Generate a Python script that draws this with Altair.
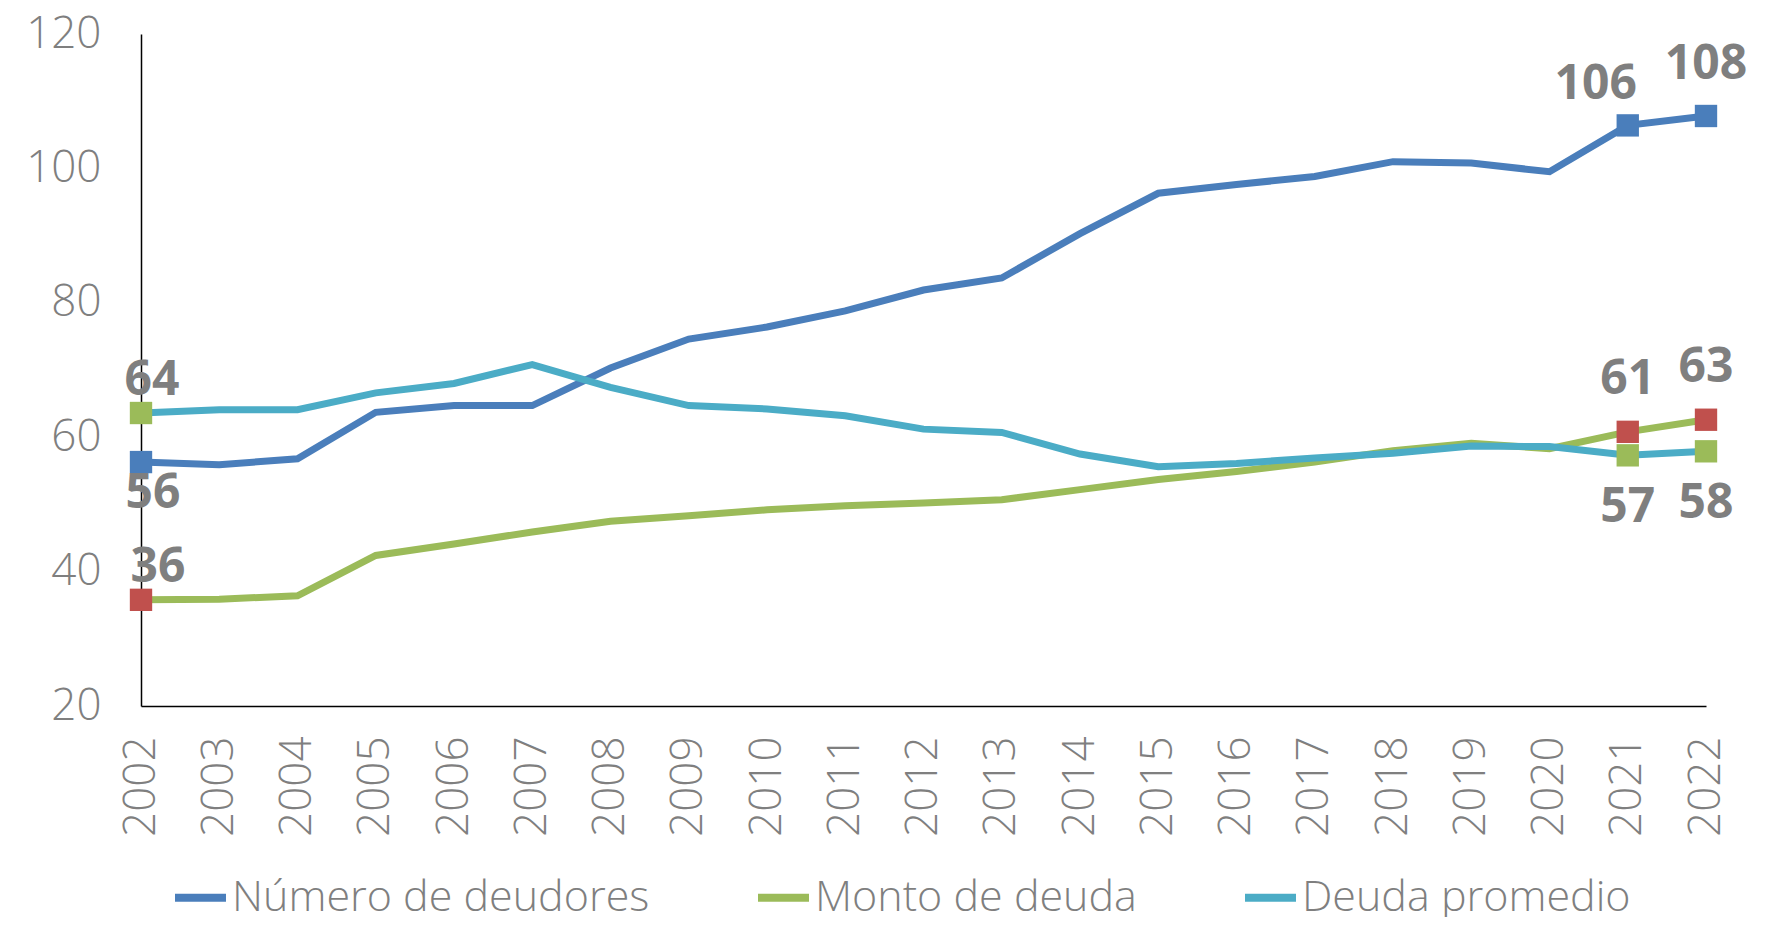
import altair as alt
import pandas as pd

# ---------------- data ----------------
years = list(range(2002, 2023))
series_names = ["Número de deudores", "Monto de deuda", "Deuda promedio"]
numero_deudores = [56.3, 55.9, 56.8, 63.7, 64.7, 64.7, 70.3, 74.6, 76.4, 78.8, 81.9,
                   83.7, 90.3, 96.3, 97.6, 98.8, 101.0, 100.8, 99.5, 106.4, 107.8]
monto_deuda = [35.8, 35.9, 36.4, 42.4, 44.1, 45.9, 47.5, 48.3, 49.2, 49.8, 50.2,
               50.7, 52.2, 53.7, 54.9, 56.3, 58.0, 59.1, 58.3, 60.8, 62.6]
deuda_promedio = [63.6, 64.1, 64.1, 66.6, 68.0, 70.8, 67.4, 64.7, 64.2, 63.2, 61.2,
                  60.7, 57.5, 55.6, 56.1, 56.9, 57.6, 58.7, 58.6, 57.3, 57.9]
y_ticks = [20, 40, 60, 80, 100, 120]
marked_years = [2002, 2021, 2022]

# ---------------- styles ----------------
line_colors = ["#4A7EBB", "#9BBB59", "#4BACC6"]
marker_colors = {"Número de deudores": "#4A7EBB",
                 "Monto de deuda": "#C0504D",
                 "Deuda promedio": "#9BBB59"}
# (series, year, dx, dy) placement of the value labels
label_specs = [
    ("Deuda promedio", 2002, 11, -32),
    ("Número de deudores", 2002, 12, 32),
    ("Monto de deuda", 2002, 17, -32),
    ("Número de deudores", 2021, -32, -40),
    ("Número de deudores", 2022, 0, -51),
    ("Monto de deuda", 2021, 0, -52),
    ("Monto de deuda", 2022, 0, -52),
    ("Deuda promedio", 2021, 0, 53),
    ("Deuda promedio", 2022, 0, 53),
]
FONT = "Open Sans"
GRAY = "#7F7F7F"

rows = []
for name, vals in zip(series_names, [numero_deudores, monto_deuda, deuda_promedio]):
    for yr, v in zip(years, vals):
        rows.append({"year": yr, "value": v, "series": name})
df = pd.DataFrame(rows)

x = alt.X("year:Q",
          scale=alt.Scale(domain=[2002, 2022], nice=False, zero=False),
          axis=alt.Axis(values=years, format="d", labelAngle=-90, ticks=False, grid=False,
                        title=None, labelPadding=30, labelFontSize=44, labelFont=FONT,
                        labelFontWeight=300, labelColor=GRAY, domainColor="#000000",
                        domainWidth=1.5, labelOverlap=False, labelFlush=False))
y = alt.Y("value:Q",
          scale=alt.Scale(domain=[20, 120], nice=False, zero=False),
          axis=alt.Axis(values=y_ticks, ticks=False, grid=False, title=None,
                        labelPadding=40, labelFontSize=44, labelFont=FONT,
                        labelFontWeight=300, labelColor=GRAY, domainColor="#000000",
                        domainWidth=1.5, labelFlush=False))

legend = alt.Legend(title=None, orient="none", legendX=30, legendY=834,
                    direction="horizontal", symbolType="stroke", symbolSize=2600,
                    symbolStrokeWidth=8, labelFontSize=43, labelFont=FONT,
                    labelFontWeight=300, labelColor=GRAY, columnPadding=92,
                    labelOffset=2, padding=0, labelLimit=800)
color = alt.Color("series:N", scale=alt.Scale(domain=series_names, range=line_colors),
                  legend=legend)

lines = [
    alt.Chart(df[df.series == name]).mark_line(strokeWidth=7).encode(x=x, y=y, color=color)
    for name in series_names
]

markers = [
    alt.Chart(df[(df.series == name) & (df.year.isin(marked_years))])
    .mark_square(size=500, opacity=1, color=marker_colors[name])
    .encode(x=x, y=y)
    for name in series_names
]

texts = []
for name, yr, dx, dy in label_specs:
    sub = df[(df.series == name) & (df.year == yr)]
    texts.append(
        alt.Chart(sub).mark_text(dx=dx, dy=dy, fontSize=48, fontWeight="bold", font=FONT,
                                 color=GRAY, align="center", baseline="middle")
        .encode(x=x, y=y, text=alt.Text("value:Q", format=".0f"))
    )

chart = (
    alt.layer(*lines, *markers, *texts)
    .properties(width=1565, height=672,
                padding={"left": 133, "top": 26, "right": 78, "bottom": 211},
                autosize=alt.AutoSizeParams(type="none"),
                background="white")
    .configure_view(strokeWidth=0)
)

chart.save("out.html", embed_options={"renderer": "svg", "actions": False})
